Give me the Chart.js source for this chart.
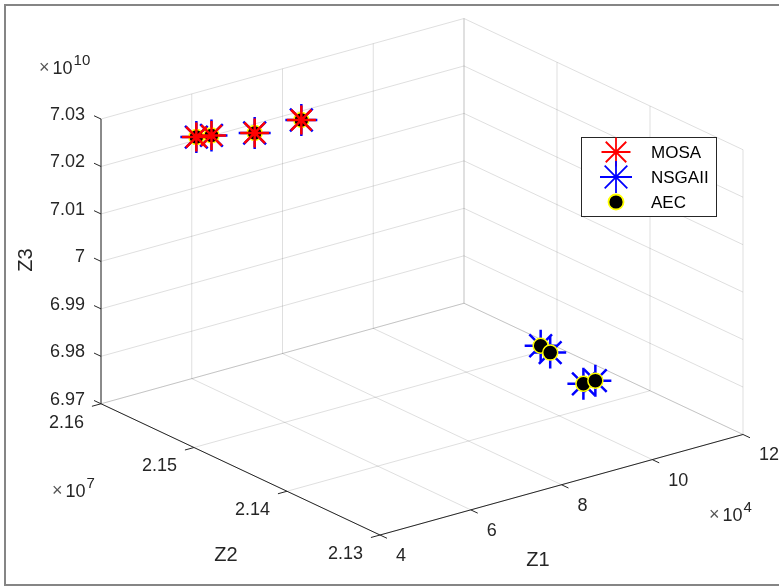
<!DOCTYPE html>
<html lang="en">
<head>
    <meta charset="UTF-8">
    <title>MOSA / NSGAII / AEC</title>
    <script src="https://cdn.jsdelivr.net/npm/chart.js"></script>
    <style>
        html, body { margin: 0; padding: 0; background: #fff; overflow: hidden; }
        .wrap { position: relative; width: 779px; height: 587px; overflow: hidden; }
        #frame {
            position: absolute; left: 4px; top: 4px; width: 800px; height: 582px;
            box-sizing: border-box; border: 2px solid #858585; pointer-events: none;
        }
        canvas { position: absolute; left: 0; top: 0; }
    </style>
</head>
<body>
    <div class="wrap">
        <canvas id="paretoChart" width="779" height="587"></canvas>
        <div id="frame"></div>
    </div>
    <script>
        // axis ticks (Z1 x10^4, Z2 x10^7, Z3 x10^10)
        const z1Ticks = [4, 6, 8, 10, 12];
        const z2Ticks = [2.13, 2.14, 2.15, 2.16];
        const z3Ticks = [6.97, 6.98, 6.99, 7, 7.01, 7.02, 7.03];
        const z1Exp = '4', z2Exp = '7', z3Exp = '10';

        // MOSA points
        const mosaZ1 = [5.63, 5.82, 6.28, 6.96];
        const mosaZ2 = [2.1577, 2.1570, 2.1546, 2.1529];
        const mosaZ3 = [7.0240, 7.0245, 7.0260, 7.0285];

        // NSGAII points
        const nsgaZ1 = [5.63, 5.82, 6.28, 6.96, 9.57, 9.78, 10.02, 10.14];
        const nsgaZ2 = [2.1577, 2.1570, 2.1546, 2.1529, 2.1399, 2.1399, 2.1375, 2.1368];
        const nsgaZ3 = [7.0240, 7.0245, 7.0260, 7.0285, 6.9860, 6.9840, 6.9790, 6.9800];

        // AEC points
        const aecZ1 = [5.63, 5.82, 6.28, 6.96, 9.57, 9.78, 10.02, 10.14];
        const aecZ2 = [2.1577, 2.1570, 2.1546, 2.1529, 2.1399, 2.1399, 2.1375, 2.1368];
        const aecZ3 = [7.0240, 7.0245, 7.0260, 7.0285, 6.9860, 6.9840, 6.9790, 6.9800];

        // view of the 3d box: screen vectors of the normalised Z1, Z2, Z3 axes
        const VIEW = { e1: [363, 101.5], e2: [-279, 132.5], e3: 287.5 };
        const FONT = "'Liberation Sans', Arial, Helvetica, sans-serif";
        const AXIS_COLOR = '#262626';
        const GRID_COLOR = 'rgba(38,38,38,0.15)';

        function norm(v, ticks) {
            return (v - ticks[0]) / (ticks[ticks.length - 1] - ticks[0]);
        }
        function project(n1, n2, n3) {
            return {
                x: VIEW.e1[0] * n1 + VIEW.e2[0] * n2,
                y: VIEW.e1[1] * n1 + VIEW.e2[1] * n2 + VIEW.e3 * n3
            };
        }
        function toXY(a, b, c) {
            return project(norm(a, z1Ticks), norm(b, z2Ticks), norm(c, z3Ticks));
        }
        function points(z1, z2, z3) {
            return z1.map((v, i) => toXY(v, z2[i], z3[i]));
        }

        function pix(chart, n) {
            const p = project(n[0], n[1], n[2]);
            return [chart.scales.x.getPixelForValue(p.x), chart.scales.y.getPixelForValue(p.y)];
        }
        function seg(ctx, chart, a, b) {
            const p = pix(chart, a), q = pix(chart, b);
            ctx.beginPath();
            ctx.moveTo(p[0], p[1]);
            ctx.lineTo(q[0], q[1]);
            ctx.stroke();
        }
        function expLabel(ctx, x, y, exp) {
            ctx.textAlign = 'left';
            ctx.textBaseline = 'alphabetic';
            ctx.font = '18px ' + FONT;
            ctx.fillStyle = '#555';
            ctx.fillText('\u00d7', x, y - 1);
            const wx = ctx.measureText('\u00d7').width;
            ctx.fillStyle = AXIS_COLOR;
            ctx.fillText('10', x + wx + 3, y);
            const w = ctx.measureText('10').width;
            ctx.font = '15px ' + FONT;
            ctx.fillText(exp, x + wx + 3 + w + 1, y - 9);
        }

        const box3d = {
            id: 'box3d',
            beforeDatasetsDraw(chart) {
                const ctx = chart.ctx;
                ctx.save();
                ctx.lineWidth = 1;

                // grid on the two back walls and the floor
                ctx.strokeStyle = GRID_COLOR;
                z1Ticks.forEach(t => {
                    const n = norm(t, z1Ticks);
                    seg(ctx, chart, [n, 1, 0], [n, 1, 1]);
                    seg(ctx, chart, [n, 0, 0], [n, 1, 0]);
                });
                z2Ticks.forEach(t => {
                    const n = norm(t, z2Ticks);
                    seg(ctx, chart, [1, n, 0], [1, n, 1]);
                    seg(ctx, chart, [0, n, 0], [1, n, 0]);
                });
                z3Ticks.forEach(t => {
                    const n = norm(t, z3Ticks);
                    seg(ctx, chart, [0, 1, n], [1, 1, n]);
                    seg(ctx, chart, [1, 0, n], [1, 1, n]);
                });

                // axes lines and ticks
                ctx.strokeStyle = AXIS_COLOR;
                seg(ctx, chart, [0, 1, 0], [0, 1, 1]);
                seg(ctx, chart, [0, 0, 0], [0, 1, 0]);
                seg(ctx, chart, [0, 0, 0], [1, 0, 0]);

                ctx.fillStyle = AXIS_COLOR;
                ctx.font = '18px ' + FONT;
                ctx.textBaseline = 'middle';

                ctx.textAlign = 'right';
                z3Ticks.forEach(t => {
                    const n = norm(t, z3Ticks);
                    seg(ctx, chart, [0, 1, n], [0, 1.025, n]);
                    const p = pix(chart, [0, 1, n]);
                    ctx.fillText(String(t), p[0] - 16, p[1] - 4);
                });
                z2Ticks.forEach(t => {
                    const n = norm(t, z2Ticks);
                    seg(ctx, chart, [0, n, 0], [-0.025, n, 0]);
                    const p = pix(chart, [0, n, 0]);
                    ctx.fillText(String(t), p[0] - 17, p[1] + 19);
                });
                ctx.textAlign = 'left';
                z1Ticks.forEach(t => {
                    const n = norm(t, z1Ticks);
                    seg(ctx, chart, [n, 0, 0], [n, -0.025, 0]);
                    const p = pix(chart, [n, 0, 0]);
                    ctx.fillText(String(t), p[0] + 16, p[1] + 21);
                });

                // exponents
                expLabel(ctx, 39, 74, z3Exp);
                expLabel(ctx, 52, 497, z2Exp);
                expLabel(ctx, 709, 521, z1Exp);

                // axis titles
                ctx.fillStyle = AXIS_COLOR;
                ctx.font = '20px ' + FONT;
                ctx.textAlign = 'center';
                ctx.textBaseline = 'middle';
                ctx.fillText('Z1', 538, 560);
                ctx.fillText('Z2', 226, 555);
                ctx.save();
                ctx.translate(26, 260);
                ctx.rotate(-Math.PI / 2);
                ctx.fillText('Z3', 0, 0);
                ctx.restore();

                ctx.restore();
            },
            afterDraw(chart) {
                const ctx = chart.ctx;
                ctx.save();
                // legend box
                ctx.fillStyle = '#fff';
                ctx.fillRect(581, 137, 136, 80);
                ctx.strokeStyle = AXIS_COLOR;
                ctx.lineWidth = 1;
                ctx.strokeRect(581.5, 137.5, 135, 79);

                chart.data.datasets.forEach((ds, i) => {
                    const y = 152 + i * 25;
                    ctx.save();
                    ctx.strokeStyle = ds.pointBorderColor;
                    ctx.fillStyle = ds.pointBackgroundColor || ds.pointBorderColor;
                    ctx.lineWidth = 1.8;
                    Chart.helpers.drawPoint(ctx, {
                        pointStyle: ds.pointStyle,
                        radius: ds.pointRadius,
                        rotation: 0,
                        borderWidth: 1.8
                    }, 616, y);
                    ctx.restore();
                    ctx.fillStyle = '#000';
                    ctx.font = '17px ' + FONT;
                    ctx.textAlign = 'left';
                    ctx.textBaseline = 'middle';
                    ctx.fillText(ds.label, 651, y + 1);
                });
                ctx.restore();
            }
        };

        const ctxPareto = document.getElementById('paretoChart').getContext('2d');
        const paretoChart = new Chart(ctxPareto, {
            type: 'scatter',
            data: {
                datasets: [{
                    label: 'MOSA',
                    data: points(mosaZ1, mosaZ2, mosaZ3),
                    pointStyle: 'star',
                    pointRadius: 14.5,
                    pointBorderColor: '#ff0000',
                    pointBorderWidth: 2.5,
                    order: 0
                }, {
                    label: 'NSGAII',
                    data: points(nsgaZ1, nsgaZ2, nsgaZ3),
                    pointStyle: 'star',
                    pointRadius: 16,
                    pointBorderColor: '#0000ff',
                    pointBorderWidth: 2.5,
                    order: 2
                }, {
                    label: 'AEC',
                    data: points(aecZ1, aecZ2, aecZ3),
                    pointStyle: 'circle',
                    pointRadius: 7.5,
                    pointBackgroundColor: '#000000',
                    pointBorderColor: '#ffff00',
                    pointBorderWidth: 1.5,
                    order: 1
                }]
            },
            options: {
                responsive: false,
                animation: false,
                events: [],
                layout: { padding: { left: 101, right: 36, top: 13.5, bottom: 52 } },
                scales: {
                    x: { type: 'linear', min: -279, max: 363, display: false },
                    y: { type: 'linear', min: 0, max: 521.5, display: false }
                },
                plugins: {
                    legend: { display: false },
                    tooltip: { enabled: false }
                }
            },
            plugins: [box3d]
        });
    </script>
</body>
</html>
